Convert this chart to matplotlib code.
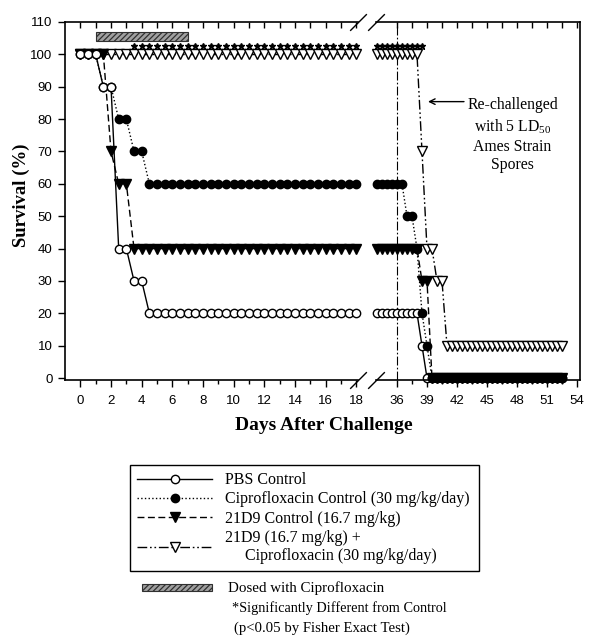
import numpy as np
import matplotlib
matplotlib.use('Agg')
import matplotlib.pyplot as plt
from matplotlib.patches import Rectangle
from matplotlib.lines import Line2D

plt.rcParams['font.family'] = 'Liberation Serif'
plt.rcParams['mathtext.fontset'] = 'custom'
plt.rcParams['mathtext.rm'] = 'Liberation Serif'
plt.rcParams['hatch.linewidth'] = 0.9

# observation days (half-day steps) on each side of the axis break
days_left = np.arange(0, 18.5, 0.5)
days_right = np.arange(34, 53, 0.5)

# survival (%)
pbs_left = [100, 100, 100, 90, 90, 40, 40, 30, 30] + [20] * 28
cipro_left = [100] * 3 + [90] * 2 + [80] * 2 + [70] * 2 + [60] * 28
d9_left = [100] * 4 + [70] + [60] * 2 + [40] * 30
combo_left = [100] * 37

pbs_right = [20] * 9 + [10] + [0] * 28
cipro_right = [60] * 6 + [50] * 2 + [40] + [20] + [10] + [0] * 27
d9_right = [40] * 9 + [30] * 2 + [0] * 27
combo_right = [100] * 9 + [70] + [40] * 2 + [30] * 2 + [10] * 24

labels = ['PBS Control',
          'Ciprofloxacin Control (30 mg/kg/day)',
          '21D9 Control (16.7 mg/kg)',
          '21D9 (16.7 mg/kg) +\n     Ciprofloxacin (30 mg/kg/day)']

dose_start, dose_end = 1, 7
star_y = 102.5

styles = {
    'pbs': dict(ls='-', marker='o', mfc='white', ms=6),
    'cipro': dict(ls=':', marker='o', mfc='black', ms=6),
    'd9': dict(ls=(0, (5, 2.5)), marker='v', mfc='black', ms=6.5),
    'combo': dict(ls=(0, (7, 2, 1.2, 2, 1.2, 2)), marker='v', mfc='white', ms=6.5),
}

fig = plt.figure(figsize=(5.89, 6.39), dpi=100)
W, H = 589, 639
ax1 = fig.add_axes([65 / W, 1 - 380 / H, (358 - 65) / W, 358 / H])
ax2 = fig.add_axes([376 / W, 1 - 380 / H, (580 - 376) / W, 358 / H])

left = {'pbs': pbs_left, 'cipro': cipro_left, 'd9': d9_left, 'combo': combo_left}
right = {'pbs': pbs_right, 'cipro': cipro_right, 'd9': d9_right, 'combo': combo_right}

for key in ['combo', 'cipro', 'd9', 'pbs']:
    st = styles[key]
    ax1.plot(days_left, left[key], color='k', lw=1, mec='k', mew=1, clip_on=False, **st)
for key in ['pbs', 'combo', 'd9', 'cipro']:
    st = styles[key]
    ax2.plot(days_right, right[key], color='k', lw=1, mec='k', mew=1, clip_on=False, **st)

# significance stars
sl = days_left[days_left >= 3.5]
sr = days_right[days_right <= 38.5]
ax1.plot(sl, [star_y] * len(sl), ls='none', marker='*', ms=5, color='k', clip_on=False)
ax2.plot(sr, [star_y] * len(sr), ls='none', marker='*', ms=5, color='k', clip_on=False)

# dosing bar
ax1.barh(105.5, dose_end - dose_start, left=dose_start, height=3, color='#a0a0a0',
         hatch='//////', edgecolor='#303030', lw=0.8)

# re-challenge
ax2.axvline(36, color='k', lw=0.8, ls=(0, (8, 2, 1.5, 2)), zorder=1)
ax2.annotate('', xy=(39.1, 85.4), xytext=(42.7, 85.4),
             arrowprops=dict(arrowstyle='->', color='k', lw=1, shrinkA=0, shrinkB=0))
for txt, yy in [('Re-challenged', 84.4), ('with 5 LD$_{50}$', 77.7),
                ('Ames Strain', 71.5), ('Spores', 65.8)]:
    ax2.text(47.55, yy, txt, ha='center', va='center', fontsize=11.3)

for ax in (ax1, ax2):
    ax.set_ylim(-0.6, 110)
    for s in ax.spines.values():
        s.set_linewidth(1.2)
    ax.tick_params(axis='x', which='major', direction='out', length=5, width=1,
                   labelsize=9.5, labelfontfamily='Liberation Sans', pad=6)
    ax.tick_params(axis='x', which='minor', direction='out', length=3, width=1)

ax1.set_xlim(-1, 18.1)
ax1.set_xticks(range(0, 19, 2))
ax1.set_xticks(range(1, 19, 2), minor=True)
ax1.set_yticks(range(0, 111, 10))
ax1.tick_params(axis='y', direction='out', length=5, width=1, labelsize=9.5,
                labelfontfamily='Liberation Sans', pad=4)
ax1.spines['right'].set_visible(False)
top1 = ax1.secondary_xaxis('top')
top1.set_xticks(range(0, 19))
top1.tick_params(direction='in', length=4, width=1, labeltop=False)
top1.spines['top'].set_visible(False)

ax2.set_xlim(33.9, 54.3)
ax2.set_xticks(range(36, 55, 3))
ax2.set_xticks(np.arange(37.5, 54, 3), minor=True)
ax2.set_yticks([])
ax2.spines['left'].set_visible(False)
top2 = ax2.secondary_xaxis('top')
top2.set_xticks(np.arange(36, 54.1, 1.5))
top2.tick_params(direction='in', length=4, width=1, labeltop=False)
top2.spines['top'].set_visible(False)

# break marks
kw = dict(marker=[(-1, -1), (1, 1)], markersize=12, linestyle='none', color='k',
          mec='k', mew=1, clip_on=False)
ax1.plot([1, 1], [0, 1], transform=ax1.transAxes, **kw)
ax2.plot([0, 0], [0, 1], transform=ax2.transAxes, **kw)

fig.text(21 / W, 1 - 195 / H, 'Survival (%)', rotation=90, fontweight='bold',
         fontsize=13.5, ha='center', va='center')
fig.text(324 / W, 1 - 426 / H, 'Days After Challenge', fontweight='bold',
         fontsize=14, ha='center', va='center')

handles = [Line2D([], [], color='k', lw=1, mec='k', mew=1, **styles[k])
           for k in ['pbs', 'cipro', 'd9', 'combo']]
leg = fig.legend(handles, labels, loc='upper left',
                 bbox_to_anchor=(130 / W, 0, 349 / W, 1 - 465 / H), mode='expand',
                 frameon=True, fancybox=False, edgecolor='k', framealpha=1,
                 fontsize=11.5, handlelength=4.7, handletextpad=0.8,
                 labelspacing=0.2, borderpad=0.45, borderaxespad=0)
leg.get_frame().set_linewidth(1.0)

fig.patches.append(Rectangle((142 / W, 1 - 591 / H), 70 / W, 7 / H,
                             transform=fig.transFigure, facecolor='#a0a0a0',
                             edgecolor='#303030', hatch='//////', lw=0.8))
fig.text(228 / W, 1 - 588 / H, 'Dosed with Ciprofloxacin', va='center', fontsize=10.8)
fig.text(232 / W, 1 - 608 / H, '*Significantly Different from Control', va='center',
         fontsize=10.3)
fig.text(234 / W, 1 - 628 / H, '(p<0.05 by Fisher Exact Test)', va='center',
         fontsize=10.6)

fig.savefig('out.png', dpi=100)
